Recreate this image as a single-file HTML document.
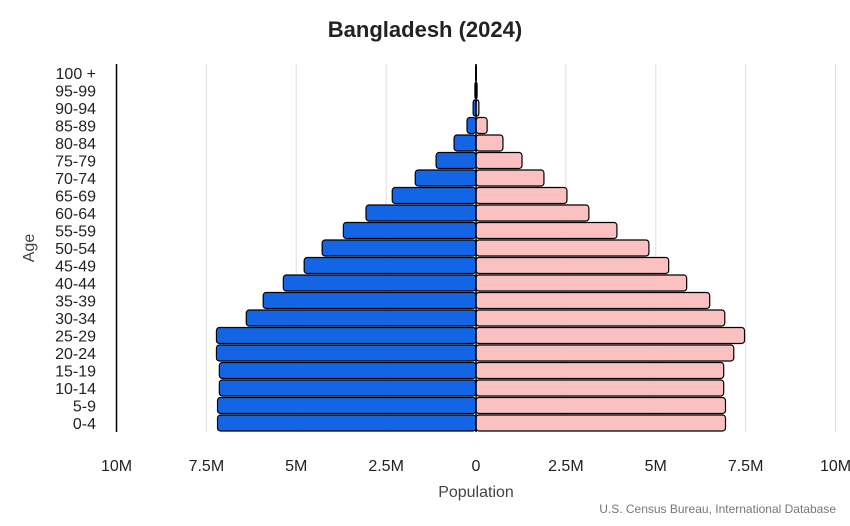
<!DOCTYPE html>
<html><head><meta charset="utf-8"><style>
body{margin:0;background:#fff;font-family:"Liberation Sans",sans-serif}
svg text{font-family:"Liberation Sans",sans-serif}
</style></head><body>
<svg id="chart" width="850" height="521">
<text x="425" y="37" text-anchor="middle" font-size="22" font-weight="bold" fill="#222">Bangladesh (2024)</text>
<g id="grid"></g><g id="bars"></g><g id="ylabels"></g><g id="xlabels"></g>
<text x="476" y="497" text-anchor="middle" font-size="16" fill="#444">Population</text>
<text x="34" y="248" text-anchor="middle" font-size="16" fill="#444" transform="rotate(-90 34 248)">Age</text>
<text x="836" y="513" text-anchor="end" font-size="12" fill="#777">U.S. Census Bureau, International Database</text>
</svg>
<script>
const ageGroups=["0-4","5-9","10-14","15-19","20-24","25-29","30-34","35-39","40-44","45-49","50-54","55-59","60-64","65-69","70-74","75-79","80-84","85-89","90-94","95-99","100 +"];
const maleValues=[7.19,7.19,7.14,7.14,7.22,7.22,6.39,5.92,5.36,4.78,4.28,3.69,3.06,2.33,1.69,1.11,0.61,0.25,0.08,0.03,0.01];
const femaleValues=[6.94,6.94,6.89,6.89,7.17,7.47,6.92,6.5,5.86,5.36,4.81,3.92,3.14,2.53,1.89,1.28,0.75,0.31,0.08,0.03,0.01];
const tickValues=[-10,-7.5,-5,-2.5,0,2.5,5,7.5,10];
const tickLabels=["10M","7.5M","5M","2.5M","0","2.5M","5M","7.5M","10M"];
const NS="http://www.w3.org/2000/svg";
const x=v=>476+v*35.95;
const y=i=>423-i*17.5;
function mk(p,tag,a){const e=document.createElementNS(NS,tag);for(const k in a)e.setAttribute(k,a[k]);document.getElementById(p).appendChild(e);return e;}
tickValues.forEach((v,i)=>{
  if(v!==0&&v!==-10){const g=mk('grid','line',{x1:x(v),x2:x(v),y1:64,y2:432,stroke:'#ddd','stroke-width':1});
  
  }
  const t=mk('xlabels','text',{x:x(v),y:471,'text-anchor':'middle','font-size':16,fill:'#222'});t.textContent=tickLabels[i];
  
  
});
const ax=mk('grid','line',{x1:x(-10),x2:x(-10),y1:64,y2:432,stroke:'#000','stroke-width':1.5});


ageGroups.forEach((a,i)=>{
  const cy=y(i);
  const m=mk('bars','rect',{x:x(-maleValues[i]),y:cy-8,width:x(0)-x(-maleValues[i]),height:16,rx:3,fill:'#1464e6',stroke:'#000','stroke-width':1.2});
  
  
  const f=mk('bars','rect',{x:x(0),y:cy-8,width:x(femaleValues[i])-x(0),height:16,rx:3,fill:'#fbc0c0',stroke:'#000','stroke-width':1.2});
  
  
  const t=mk('ylabels','text',{x:96,y:cy+6,'text-anchor':'end','font-size':16,fill:'#222'});t.textContent=a;
  
  
});
const c=mk('bars','line',{x1:476,x2:476,y1:64,y2:432,stroke:'#000','stroke-width':1.5});


</script>
</body></html>
